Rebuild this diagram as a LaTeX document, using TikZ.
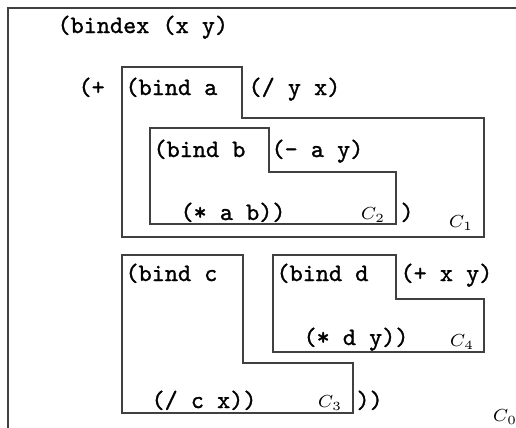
\documentclass[tikz,border=0pt]{standalone}
\usepackage{tikz}
\usepackage{amsmath}
\usepackage{xcolor}
\usepackage{fontspec}
\newfontfamily\codefont[FakeBold=1.2]{Latin Modern Mono}
\tikzset{
  code/.style={anchor=base west, inner sep=0pt, font=\codefont},
  clabel/.style={inner sep=0pt, font=\scriptsize},
  region/.style={draw=black!75, line width=0.6pt}
}

\begin{document}
\begin{tikzpicture}[x=0.4pt, y=-0.4pt]

  \useasboundingbox (0,0) rectangle (516,428);

  % outer frame C0
  \draw[black!75, line width=0.9pt] (516,8) -- (8,8) -- (8,428);

  % C1
  \coordinate (Ia) at (122,67);
  \coordinate (Ib) at (242,118);
  \coordinate (Ic) at (484,237);
  \draw[region] (Ia) -- (Ia -| Ib) -- (Ib) -- (Ib -| Ic) -- (Ic) -- (Ic -| Ia) -- cycle;

  % C2
  \coordinate (IIa) at (150,128);
  \coordinate (IIb) at (269,172);
  \coordinate (IIc) at (396,224);
  \draw[region] (IIa) -- (IIa -| IIb) -- (IIb) -- (IIb -| IIc) -- (IIc) -- (IIc -| IIa) -- cycle;

  % C3
  \coordinate (IIIa) at (122,255);
  \coordinate (IIIb) at (243,363);
  \coordinate (IIIc) at (353,413);
  \draw[region] (IIIa) -- (IIIa -| IIIb) -- (IIIb) -- (IIIb -| IIIc) -- (IIIc) -- (IIIc -| IIIa) -- cycle;

  % C4
  \coordinate (IVa) at (273,255);
  \coordinate (IVb) at (396,299);
  \coordinate (IVc) at (484,352);
  \draw[region] (IVa) -- (IVa -| IVb) -- (IVb) -- (IVb -| IVc) -- (IVc) -- (IVc -| IVa) -- cycle;

  \node[code] (bindex) at (57,33) {(bindex (x y)};
  \node[code] (plus)   at (78,95) {(+};
  \node[code] (binda)  at (125,95) {(bind a};
  \node[code] (divyx)  at (248,95) {(/ y x)};
  \node[code] (bindb)  at (153,157) {(bind b};
  \node[code] (minay)  at (271,157) {(- a y)};
  \node[code] (mulab)  at (180,220) {(* a b))};
  \node[code] (closea) at (400,220) {)};
  \node[code] (bindc)  at (125,281) {(bind c};
  \node[code] (bindd)  at (276,281) {(bind d};
  \node[code] (plusxy) at (400,281) {(+ x y)};
  \node[code] (muldy)  at (303,345) {(* d y))};
  \node[code] (divcx)  at (151,408) {(/ c x))};
  \node[code] (closec) at (356,408) {))};

  \node[clabel] (lzero)  at (505,417) {$C_0$};
  \node[clabel] (lone)   at (461,223) {$C_1$};
  \node[clabel] (ltwo)   at (373,215) {$C_2$};
  \node[clabel] (lthree) at (330,403) {$C_3$};
  \node[clabel] (lfour)  at (462,342) {$C_4$};

\end{tikzpicture}
\end{document}
